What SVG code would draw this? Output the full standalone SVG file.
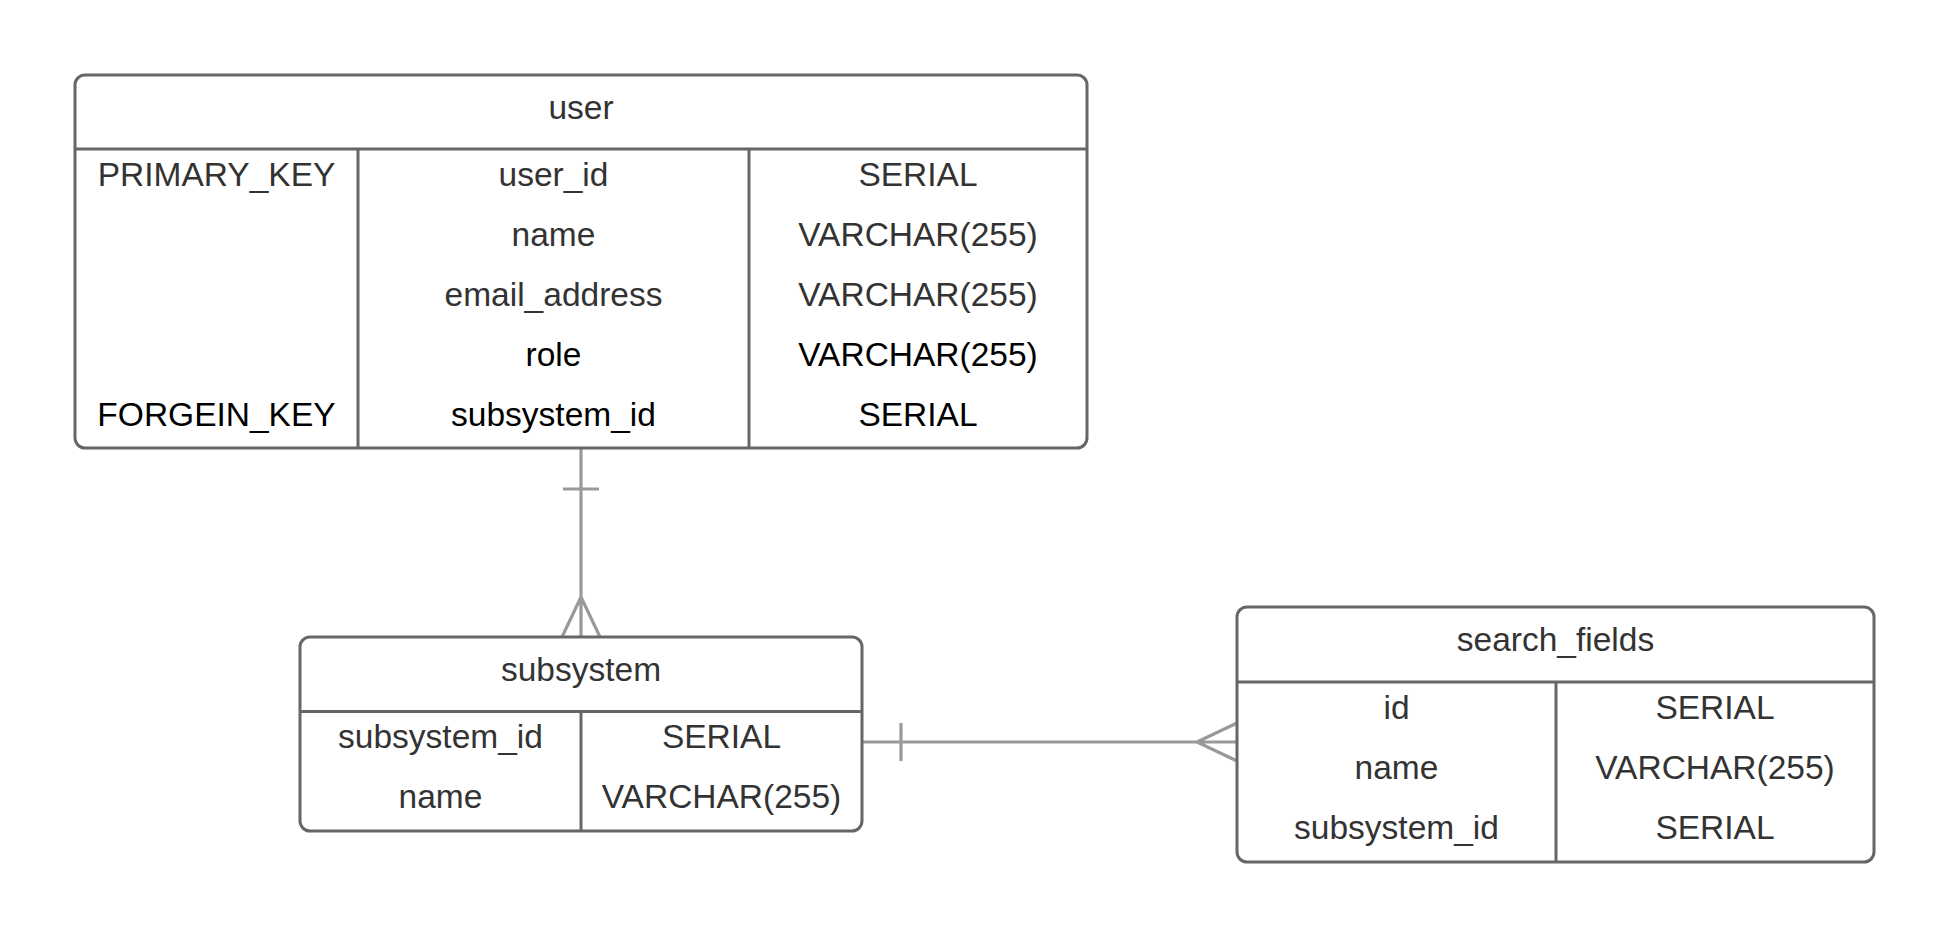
<svg xmlns="http://www.w3.org/2000/svg" width="1950" height="938" viewBox="0 0 1950 938">
<style>
.box{fill:#fff;stroke:#666;stroke-width:3}
.ln{stroke:#666;stroke-width:3;fill:none}
.t{font-family:"Liberation Sans",Arial,sans-serif;font-size:33.5px;fill:#333;text-anchor:middle}
.k{fill:#000}
.c{stroke:#999;stroke-width:3.2;fill:none}
</style>
<rect width="1950" height="938" fill="#fff"/>
<g id="connectors">
<path class="c" d="M581,448 V637 M563,489 H599 M562,637 L581,597 L600,637"/>
<path class="c" d="M862,742 H1237 M901,723 V761 M1237,723 L1197,742 L1237,761"/>
</g>
<g id="user">
<rect class="box" x="75" y="75" width="1012" height="373" rx="10"/>
<path class="ln" d="M75,149 H1087 M358,149 V448 M749,149 V448"/>
<text class="t" x="581" y="119">user</text>
<text class="t" x="216.5" y="186">PRIMARY_KEY</text>
<text class="t" x="553.5" y="186">user_id</text>
<text class="t" x="918" y="186">SERIAL</text>
<text class="t" x="553.5" y="246">name</text>
<text class="t" x="918" y="246">VARCHAR(255)</text>
<text class="t" x="553.5" y="306">email_address</text>
<text class="t" x="918" y="306">VARCHAR(255)</text>
<text class="t k" x="553.5" y="366">role</text>
<text class="t k" x="918" y="366">VARCHAR(255)</text>
<text class="t k" x="216.5" y="426">FORGEIN_KEY</text>
<text class="t k" x="553.5" y="426">subsystem_id</text>
<text class="t k" x="918" y="426">SERIAL</text>
</g>
<g id="subsystem">
<rect class="box" x="300" y="637" width="562" height="194" rx="10"/>
<path class="ln" d="M300,711.5 H862 M581,711.5 V831"/>
<text class="t" x="581" y="681">subsystem</text>
<text class="t" x="440.5" y="748">subsystem_id</text>
<text class="t" x="721.5" y="748">SERIAL</text>
<text class="t" x="440.5" y="808">name</text>
<text class="t" x="721.5" y="808">VARCHAR(255)</text>
</g>
<g id="search_fields">
<rect class="box" x="1237" y="607" width="637" height="255" rx="10"/>
<path class="ln" d="M1237,682 H1874 M1556,682 V862"/>
<text class="t" x="1555.5" y="651">search_fields</text>
<text class="t" x="1396.5" y="718.5">id</text>
<text class="t" x="1715" y="718.5">SERIAL</text>
<text class="t" x="1396.5" y="778.5">name</text>
<text class="t" x="1715" y="778.5">VARCHAR(255)</text>
<text class="t" x="1396.5" y="838.5">subsystem_id</text>
<text class="t" x="1715" y="838.5">SERIAL</text>
</g>
</svg>
